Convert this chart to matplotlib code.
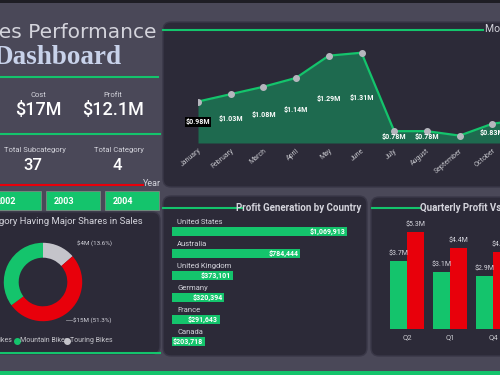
import matplotlib
matplotlib.use('Agg')
import matplotlib.pyplot as plt
from matplotlib.patches import FancyBboxPatch, Rectangle

plt.rcParams['font.family'] = ['Roboto', 'DejaVu Sans']

# --- data ---
months = ["January", "February", "March", "April", "May", "June", "July",
          "August", "September", "October", "November"]
month_sales = [0.98, 1.03, 1.08, 1.14, 1.29, 1.31, 0.78, 0.78, 0.75, 0.83, 0.86]

countries = ["United States", "Australia", "United Kingdom", "Germany", "France", "Canada"]
country_profit = [1069913, 784444, 373101, 320394, 291643, 203718]

quarters = ["Q2", "Q1", "Q4"]
q_profit = [3.7, 3.1, 2.9]
q_cost = [5.3, 4.4, 4.2]

bike_names = ["Touring Bikes", "Road Bikes", "Mountain Bikes"]
bike_sales = [3.97, 14.98, 10.25]

years = ["2002", "2003", "2004"]
kpis = [("Cost", "$17M"), ("Profit", "$12.1M")]
counts = [("Total Subcategory", "37"), ("Total Category", "4")]

BG = '#4a4858'
PANEL = '#2c2a38'
GREEN = '#14c46c'
RED = '#e8000b'
GRAY = '#c4c4ca'
TXT = '#d4d4dc'

W, H = 500, 375
fig = plt.figure(figsize=(5, 3.75), dpi=100)
fig.patch.set_facecolor(BG)

bg = fig.add_axes([0, 0, 1, 1])
bg.set_xlim(0, W)
bg.set_ylim(H, 0)
bg.axis('off')


def px_axes(x0, y0, x1, y1):
    ax = fig.add_axes([x0 / W, 1 - y1 / H, (x1 - x0) / W, (y1 - y0) / H])
    ax.set_facecolor('none')
    for s in ax.spines.values():
        s.set_visible(False)
    return ax


def panel(x0, y0, x1, y1):
    bg.add_patch(FancyBboxPatch((x0, y0), x1 - x0, y1 - y0,
                                boxstyle="round,pad=0,rounding_size=8",
                                fc=PANEL, ec='#3a3848', lw=1))


# strips
bg.add_patch(Rectangle((0, 0), W, 3, fc='#1e1d24', ec='none'))
bg.add_patch(Rectangle((0, 371), W, 4, fc=GREEN, ec='none'))

# panels
panel(163, 22, 520, 187)
panel(-20, 212, 160, 354)
panel(163, 196, 367, 356)
panel(371, 197, 520, 356)

# title block
bg.text(156, 33, "Sales Performance", ha='right', va='center', fontsize=14.5,
        color=TXT, family='DejaVu Sans')
bg.text(122, 57, "Dashboard", ha='right', va='center', fontsize=19.5,
        color='#c8d2ea', fontweight='bold', family='Liberation Serif')
bg.plot([0, 158], [77, 77], color=GREEN, lw=1.5)
for (lab, val), cx in zip(kpis, [38, 113]):
    bg.text(cx, 95, lab, ha='center', va='center', fontsize=5.5, color=TXT)
    bg.text(cx, 110, val, ha='center', va='center', fontsize=13, color='white',
            fontweight='medium')
bg.plot([0, 160], [134, 134], color=GREEN, lw=1.5)
for (lab, val), cx in zip(counts, [35, 119]):
    bg.text(cx, 150, lab, ha='center', va='center', fontsize=5.5, color=TXT)
    bg.text(cx - 2, 165, val, ha='center', va='center', fontsize=12, color='white',
            fontweight='medium')
bg.plot([0, 143], [185, 185], color=RED, lw=1.5)
bg.text(143, 183, "Year", ha='left', va='center', fontsize=6.5, color=TXT)
for yr, (x0, x1) in zip(years, [(-12, 41), (46, 100), (105, 159)]):
    bg.add_patch(Rectangle((x0, 191), x1 - x0, 19, fc=GREEN, ec='#7a8a80', lw=0.6))
    bg.text(x0 + 8, 201, yr, ha='left', va='center', fontsize=6.5,
            color='white', fontweight='bold')

# monthly area chart
bg.plot([163, 483], [30, 30], color=GREEN, lw=1.5)
bg.text(485, 29, "Monthly Sales", ha='left', va='center', fontsize=7.5, color=TXT)
base = 0.70
step = 32.7
ax = px_axes(198, 40, 198 + step * 10.3, 143)
xs = list(range(len(months)))
ax.fill_between(xs, month_sales, base, color='#1e6a4f', lw=0)
ax.plot(xs, month_sales, color=GREEN, lw=1.6, zorder=3)
ax.plot(xs, month_sales, 'o', color='#b6b6be', ms=4, zorder=4)
ax.set_xlim(0, 10.3)
ax.set_ylim(base, base + 103 / 148)
ax.set_yticks([])
ax.set_xticks(xs)
ax.set_xticklabels(months, rotation=40, ha='right', rotation_mode='anchor',
                   fontsize=5, color=GRAY)
ax.tick_params(axis='x', length=0, pad=3)
for i, v in enumerate(month_sales):
    if i == 8:  # label hidden in the dashboard
        continue
    box = dict(fc='black', ec='none', pad=0.6) if i == 0 else None
    ax.text(i, (v + base) / 2, f"${v:.2f}M", ha='center', va='center',
            fontsize=5, color='white', fontweight='bold', bbox=box, zorder=5)

# donut
bg.text(143, 222, "Sub Category Having Major Shares in Sales", ha='right',
        va='center', fontsize=6.8, color=TXT)
dax = fig.add_axes([3 / W, 1 - 322 / H, 80 / W, 80 / H])
dax.pie(bike_sales, colors=[GRAY, RED, GREEN], startangle=90, counterclock=False,
        wedgeprops=dict(width=0.38, edgecolor='none'))
dax.set_xlim(-1.02, 1.02)
dax.set_ylim(-1.02, 1.02)
dax.set_aspect('equal')
total = sum(bike_sales)
bg.text(77, 243, f"${bike_sales[0]:.0f}M ({bike_sales[0] / total * 100:.1f}%)",
        ha='left', va='center', fontsize=4.5, color=TXT)
bg.plot([66, 72], [320, 320], color='#8a8a94', lw=0.6)
bg.text(73, 320, f"${bike_sales[1]:.0f}M ({bike_sales[1] / total * 100:.1f}%)",
        ha='left', va='center', fontsize=4.5, color=TXT)
bg.text(12, 341, "Road Bikes", ha='right', va='center', fontsize=5, color=GRAY)
bg.plot(17, 341, 'o', color=GREEN, ms=4)
bg.text(20.5, 341, "Mountain Bikes", ha='left', va='center', fontsize=5, color=GRAY)
bg.plot(67, 341, 'o', color=GRAY, ms=4)
bg.text(70.5, 341, "Touring Bikes", ha='left', va='center', fontsize=5, color=GRAY)
bg.plot([0, 160], [353, 353], color=GREEN, lw=1.5)

# profit by country
bg.plot([163, 243], [208, 208], color=GREEN, lw=1.5)
bg.text(361, 208, "Profit Generation by Country", ha='right', va='center',
        fontsize=7, color=TXT, fontweight='bold')
cax = px_axes(172, 220, 347, 350)
rows = list(range(len(countries)))
cax.barh(rows, country_profit, height=0.41, color=GREEN)
cmax = max(country_profit)
cax.set_xlim(0, cmax)
cax.set_ylim(5.386, -0.523)
cax.set_xticks([])
cax.set_yticks([])
for i, (name, v) in enumerate(zip(countries, country_profit)):
    cax.text(cmax * 5 / 175, i - 0.42, name, ha='left', va='center',
             fontsize=5.5, color=TXT)
    cax.text(v - cmax * 2 / 175, i, f"${v:,}", ha='right', va='center',
             fontsize=5, color='white', fontweight='bold')

# quarterly profit vs cost
bg.plot([372, 420], [208, 208], color=GREEN, lw=1.5)
bg.text(420, 208, "Quarterly Profit Vs Cost", ha='left', va='center',
        fontsize=7, color=TXT, fontweight='bold')
qax = px_axes(380, 215, 380 + 43 * 3.328, 329)
qx = list(range(len(quarters)))
bw = 0.395
qax.bar([x - bw / 2 for x in qx], q_profit, width=bw, color=GREEN)
qax.bar([x + bw / 2 for x in qx], q_cost, width=bw, color=RED)
qax.set_xlim(-0.628, 2.7)
qax.set_ylim(0, 114 / 18.3)
qax.set_yticks([])
qax.set_xticks(qx)
qax.set_xticklabels(quarters, fontsize=5.5, color=GRAY)
qax.tick_params(axis='x', length=0, pad=4)
for x, p, c in zip(qx, q_profit, q_cost):
    qax.text(x - bw / 2, p + 0.2, f"${p}M", ha='center', va='bottom', fontsize=5, color=TXT)
    qax.text(x + bw / 2, c + 0.2, f"${c}M", ha='center', va='bottom', fontsize=5, color=TXT)

fig.savefig("out.png", dpi=100, facecolor=BG)
